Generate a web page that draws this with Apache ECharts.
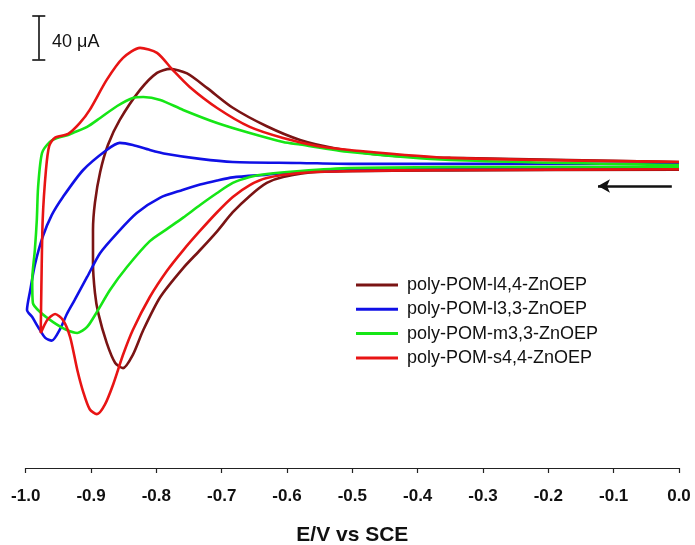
<!DOCTYPE html>
<html>
<head>
<meta charset="utf-8">
<script src="https://cdn.jsdelivr.net/npm/echarts@6/dist/echarts.min.js"></script>
<style>
html,body{margin:0;padding:0;background:#fff;}
#chart{width:695px;height:545px;}
</style>
</head>
<body>
<div id="chart"></div>
<script>
// Potential (V vs SCE) and current (µA), loop order (start at 0.0 V, scan negative, return)
const seriesNames = ['poly-POM-l4,4-ZnOEP', 'poly-POM-l3,3-ZnOEP', 'poly-POM-m3,3-ZnOEP', 'poly-POM-s4,4-ZnOEP'];
const seriesColors = ['#7a1414', '#1010e6', '#16e616', '#e81414'];

const cvL44 = [
  [0.0,-6.0],[-0.35,-6.5],[-0.554,-8.0],[-0.606,-12.6],[-0.631,-18.1],[-0.657,-30.0],[-0.683,-45.0],
  [-0.707,-62.5],[-0.733,-79.7],[-0.759,-96.3],[-0.794,-122.9],[-0.820,-153.2],[-0.836,-176.0],
  [-0.851,-188.2],[-0.863,-183.5],[-0.876,-165.1],[-0.889,-137.5],[-0.894,-119.1],[-0.897,-91.6],
  [-0.897,-61.3],[-0.894,-36.1],[-0.886,-8.0],[-0.874,17.0],[-0.856,39.8],[-0.825,67.4],[-0.799,83.1],
  [-0.779,86.7],[-0.753,82.5],[-0.722,69.0],[-0.683,51.0],[-0.631,34.0],[-0.580,21.4],[-0.529,14.1],
  [-0.453,7.6],[-0.35,4.9],[0.0,1.2]
];
const cvL33 = [
  [0.0,-4.3],[-0.35,-4.5],[-0.58,-8.0],[-0.631,-10.5],[-0.683,-13.0],[-0.707,-15.8],[-0.733,-19.5],
  [-0.760,-24.5],[-0.794,-31.5],[-0.830,-45.7],[-0.860,-64.1],[-0.886,-82.4],
  [-0.906,-104.5],[-0.925,-125.6],[-0.937,-138.5],[-0.947,-152.0],[-0.960,-163.0],[-0.970,-160.5],
  [-0.981,-150.5],[-0.990,-141.3],[-0.998,-134.8],[-0.993,-116.5],[-0.986,-93.5],[-0.974,-67.7],
  [-0.960,-47.5],[-0.943,-31.0],[-0.912,-6.2],[-0.876,12.2],[-0.856,18.7],[-0.836,16.8],[-0.810,12.2],
  [-0.784,8.5],[-0.733,4.0],[-0.683,1.2],[-0.580,0.3],[-0.504,-0.6],[0.0,-0.6]
];
const cvM33 = [
  [0.0,-3.4],[-0.35,-3.6],[-0.504,-4.5],[-0.58,-7.1],[-0.631,-9.8],[-0.657,-12.6],[-0.683,-18.1],
  [-0.707,-27.3],[-0.733,-38.3],[-0.759,-50.0],[-0.784,-60.5],[-0.810,-71.5],
  [-0.845,-95.3],[-0.871,-116.4],[-0.891,-136.6],[-0.906,-150.4],[-0.921,-155.9],[-0.937,-153.2],
  [-0.958,-145.9],[-0.978,-136.7],[-0.989,-128.4],[-0.990,-107.2],[-0.986,-79.7],[-0.983,-52.1],
  [-0.981,-21.8],[-0.975,9.4],[-0.963,19.6],[-0.952,23.2],[-0.935,26.0],[-0.928,27.8],[-0.906,33.4],
  [-0.886,41.6],[-0.860,52.6],[-0.836,60.0],[-0.820,60.9],[-0.794,58.2],[-0.759,49.0],[-0.707,37.0],
  [-0.657,27.8],[-0.606,19.6],[-0.580,17.2],[-0.504,10.4],[-0.35,3.0],[0.0,-1.6]
];
const cvS44 = [
  [0.0,-5.5],[-0.35,-6.2],[-0.50,-7.1],[-0.58,-8.9],[-0.631,-13.5],[-0.657,-20.0],[-0.683,-31.0],
  [-0.707,-45.0],[-0.733,-62.0],[-0.759,-80.0],[-0.784,-99.0],[-0.810,-122.9],
  [-0.836,-153.2],[-0.851,-176.0],[-0.866,-203.0],[-0.879,-222.0],[-0.891,-230.5],[-0.902,-226.0],
  [-0.912,-210.0],[-0.921,-189.9],[-0.932,-159.7],[-0.943,-144.0],[-0.955,-138.5],[-0.967,-144.0],
  [-0.977,-156.0],[-0.976,-113.7],
  [-0.974,-52.1],[-0.969,-6.2],[-0.964,16.0],[-0.955,23.5],[-0.935,26.9],[-0.917,37.0],[-0.902,49.0],
  [-0.876,76.6],[-0.851,96.8],[-0.825,106.0],[-0.799,101.4],[-0.775,85.8],[-0.749,70.1],[-0.707,50.8],
  [-0.657,33.4],[-0.606,23.2],[-0.554,15.9],[-0.504,12.2],[-0.35,4.9],[0.0,1.2]
];
const cvData = [cvL44, cvL33, cvM33, cvS44];

// x tick labels
const xTicks = ['-1.0','-0.9','-0.8','-0.7','-0.6','-0.5','-0.4','-0.3','-0.2','-0.1','0.0'];
// scale bar: 40 µA, and scan direction arrow
const scaleBarX = -0.980, scaleBarTop = 135.4, scaleBarSize = 40, scaleBarCap = 0.010;
const scaleLabel = '40 \u03bcA';
const arrowFrom = [-0.011, -20.9], arrowTo = [-0.124, -20.9];

const FONT = "'Liberation Sans', Arial, sans-serif";
const chart = echarts.init(document.getElementById('chart'));

const series = cvData.map((d, i) => ({
  name: seriesNames[i],
  type: 'line',
  data: d,
  smooth: 0.25,
  showSymbol: false,
  symbol: 'none',
  lineStyle: { width: 2.6, color: seriesColors[i] },
  itemStyle: { color: seriesColors[i] },
  z: 2 + i
}));

const sbBot = scaleBarTop - scaleBarSize;
series.push({
  name: 'annotations',
  type: 'line',
  data: [],
  silent: true,
  markLine: {
    silent: true,
    symbol: 'none',
    label: { show: false },
    lineStyle: { color: '#111', width: 1.6, type: 'solid' },
    data: [
      [{ coord: [scaleBarX, scaleBarTop] }, { coord: [scaleBarX, sbBot] }],
      [{ coord: [scaleBarX - scaleBarCap, scaleBarTop] }, { coord: [scaleBarX + scaleBarCap, scaleBarTop] }],
      [{ coord: [scaleBarX - scaleBarCap, sbBot] }, { coord: [scaleBarX + scaleBarCap, sbBot] }],
      [{ coord: arrowFrom, symbol: 'none' }, { coord: arrowTo, symbol: 'arrow', symbolSize: [10, 12],
         lineStyle: { width: 2.6, color: '#111' } }]
    ]
  }
});

chart.setOption({
  animation: false,
  backgroundColor: '#fff',
  grid: { left: 25.7, right: 16, top: 0, bottom: 77, containLabel: false, outerBoundsMode: 'none' },
  xAxis: {
    type: 'value', min: -1, max: 0, interval: 0.1,
    name: 'E/V vs SCE', nameLocation: 'middle', nameGap: 57,
    nameTextStyle: { fontFamily: FONT, fontSize: 21, fontWeight: 'bold', color: '#111' },
    axisLine: { onZero: false, lineStyle: { color: '#222', width: 1.2 } },
    axisTick: { inside: false, length: 5, lineStyle: { color: '#222', width: 1.2 } },
    splitLine: { show: false },
    axisLabel: {
      margin: 20, fontFamily: FONT, fontSize: 17, fontWeight: 'bold', color: '#111',
      formatter: v => xTicks[Math.round((v + 1) * 10)]
    }
  },
  yAxis: { type: 'value', min: -280, max: 150, show: false, splitLine: { show: false } },
  legend: {
    data: seriesNames,
    orient: 'vertical', left: 351, top: 270,
    icon: 'rect', itemWidth: 42, itemHeight: 3, itemGap: 4.3,
    textStyle: { fontFamily: FONT, fontSize: 18, color: '#111', lineHeight: 20, padding: [0, 0, 0, 4] }
  },
  graphic: [{
    type: 'text', left: 52, top: 33,
    style: { text: scaleLabel, font: '18px ' + FONT, fill: '#111' }
  }],
  series: series
});
</script>
</body>
</html>
